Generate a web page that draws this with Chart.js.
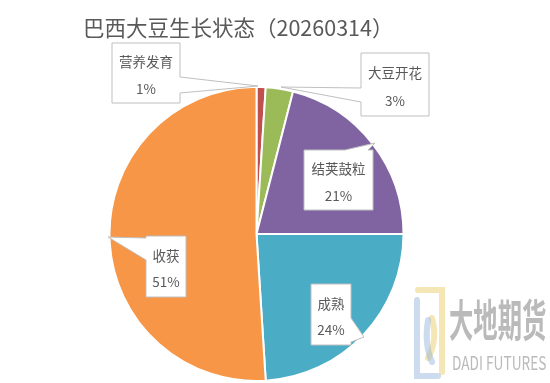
<!DOCTYPE html>
<html>
<head>
<meta charset="utf-8">
<script src="https://cdn.jsdelivr.net/npm/chart.js@4/dist/chart.umd.min.js"></script>
<style>
  html, body { margin: 0; padding: 0; background: #fff; }
  #wrap { width: 550px; height: 383px; }
</style>
</head>
<body>
<div id="wrap"><canvas id="soyChart" width="550" height="383"></canvas></div>
<script>
// 巴西大豆生长状态 pie chart

const stages = ["营养发育", "大豆开花", "结荚鼓粒", "成熟", "收获"];
const shares = [1, 3, 21, 24, 51];
const sliceColors = ["#C0504D", "#9BBB59", "#8064A2", "#4BACC6", "#F79646"];

// callout boxes (layout only): box rect, pointer base on a side, pointer tip
const callouts = [
  { box: [112, 43, 180, 103], side: "right", base: [77, 93], tip: [258, 86] },
  { box: [361, 53, 429, 116], side: "left", base: [88, 102], tip: [281, 87] },
  { box: [304, 150, 373, 210], side: "top", base: [345, 368], tip: [375, 143] },
  { box: [311, 284, 351, 345], side: "right", base: [318, 342], tip: [364, 337] },
  { box: [146, 236, 186, 297], side: "left", base: [238, 260], tip: [108, 237] },
];

const txtColor = "#595959";
const cjk = '"Noto Sans CJK SC", "Noto Sans", sans-serif';

function calloutPath(ctx, c) {
  const [x0, y0, x1, y1] = c.box;
  const [b0, b1] = c.base;
  const [tx, ty] = c.tip;
  ctx.beginPath();
  ctx.moveTo(x0, y0);
  if (c.side === "top") {
    ctx.lineTo(b0, y0);
    ctx.lineTo(tx, ty);
    ctx.lineTo(b1, y0);
  }
  ctx.lineTo(x1, y0);
  if (c.side === "right") {
    ctx.lineTo(x1, b0);
    ctx.lineTo(tx, ty);
    ctx.lineTo(x1, b1);
  }
  ctx.lineTo(x1, y1);
  ctx.lineTo(x0, y1);
  if (c.side === "left") {
    ctx.lineTo(x0, b1);
    ctx.lineTo(tx, ty);
    ctx.lineTo(x0, b0);
  }
  ctx.closePath();
}

const decorPlugin = {
  id: "decor",
  afterDraw(chart) {
    const ctx = chart.ctx;
    ctx.save();

    // title
    ctx.fillStyle = txtColor;
    ctx.font = "21.5px " + cjk;
    ctx.textAlign = "left";
    ctx.textBaseline = "middle";
    ctx.fillText("巴西大豆生长状态（20260314）", 83, 28);

    // callouts
    callouts.forEach((c, i) => {
      calloutPath(ctx, c);
      ctx.fillStyle = "#ffffff";
      ctx.fill();
      ctx.strokeStyle = "#bfbfbf";
      ctx.lineWidth = 1;
      ctx.stroke();
      const cx = (c.box[0] + c.box[2]) / 2;
      const h = c.box[3] - c.box[1];
      ctx.fillStyle = txtColor;
      ctx.font = "13.5px " + cjk;
      ctx.textAlign = "center";
      ctx.textBaseline = "middle";
      ctx.fillText(stages[i], cx, c.box[1] + h * 0.32);
      ctx.fillText(shares[i] + "%", cx, c.box[1] + h * 0.76);
    });

    // watermark logo
    ctx.globalAlpha = 0.45;
    ctx.lineCap = "round";
    ctx.strokeStyle = "#e9c75a";
    ctx.lineWidth = 6;
    ctx.beginPath();
    ctx.moveTo(418, 290);
    ctx.lineTo(442, 290);
    ctx.lineTo(442, 372);
    ctx.stroke();
    ctx.beginPath();
    ctx.moveTo(432, 318);
    ctx.quadraticCurveTo(438, 340, 428, 358);
    ctx.stroke();
    ctx.strokeStyle = "#8fb0d6";
    ctx.beginPath();
    ctx.moveTo(417, 300);
    ctx.lineTo(417, 376);
    ctx.lineTo(438, 376);
    ctx.stroke();
    ctx.beginPath();
    ctx.moveTo(428, 320);
    ctx.quadraticCurveTo(424, 345, 432, 362);
    ctx.stroke();

    ctx.globalAlpha = 0.6;
    ctx.fillStyle = "#8c8c8c";
    ctx.textAlign = "left";
    ctx.textBaseline = "alphabetic";
    ctx.save();
    ctx.translate(449, 337);
    ctx.scale(0.58, 1.05);
    ctx.font = "bold 42px " + cjk;
    ctx.fillText("大地期货", 0, 0);
    ctx.restore();
    ctx.save();
    ctx.translate(452, 370);
    ctx.scale(0.72, 1);
    ctx.font = "19px " + cjk;
    ctx.fillText("DADI FUTURES", 0, 0);
    ctx.restore();

    ctx.restore();
  },
};

new Chart(document.getElementById("soyChart").getContext("2d"), {
  type: "pie",
  data: {
    labels: stages,
    datasets: [
      {
        data: shares,
        backgroundColor: sliceColors,
        borderColor: "#ffffff",
        borderWidth: 2,
      },
    ],
  },
  options: {
    responsive: false,
    animation: false,
    layout: {
      padding: { left: 108, top: 86, right: 145, bottom: 1 },
    },
    plugins: {
      legend: { display: false },
      tooltip: { enabled: false },
      title: { display: false },
    },
  },
  plugins: [decorPlugin],
});
</script>
</body>
</html>
